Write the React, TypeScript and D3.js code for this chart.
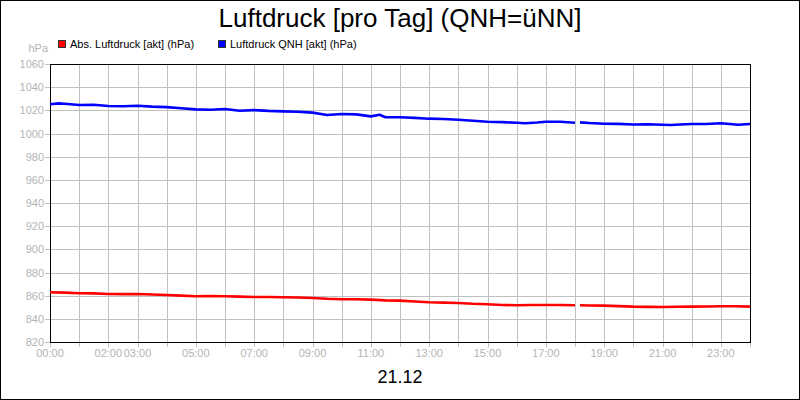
import React, { useEffect, useRef } from 'react';
import * as d3 from 'd3';

// hours since 00:00 and pressure in hPa; null marks the gap in the record
const qnhHours = [0, 0.3, 0.6, 1, 1.5, 2, 2.5, 3, 3.5, 4, 4.5, 5, 5.5, 6, 6.5, 7, 7.5, 8, 8.5, 9, 9.5, 10, 10.5, 11, 11.3, 11.5,
  12, 12.5, 13, 13.5, 14, 14.5, 15, 15.5, 16, 16.3, 16.7, 17, 17.5, 18, 18.08, 18.17, 18.5, 19, 19.5, 20, 20.5, 21, 21.3, 21.6,
  22, 22.5, 23, 23.3, 23.6, 24];
const qnhValues = [1025.2, 1026, 1025.5, 1024.6, 1024.8, 1023.7, 1023.5, 1024, 1023.2, 1022.8, 1021.8, 1020.8, 1020.5, 1021.1,
  1019.7, 1020.2, 1019.5, 1019.1, 1018.8, 1018, 1016, 1016.8, 1016.5, 1014.8, 1016.2, 1014,
  1014, 1013.5, 1012.8, 1012.5, 1011.9, 1011, 1010.2, 1009.8, 1009.3, 1008.8, 1009.5, 1010.2, 1010.2, 1009.3, null, 1009.6,
  1009, 1008.4, 1008.3, 1007.8, 1008, 1007.6, 1007.4, 1007.8, 1008.2, 1008.2, 1008.8, 1008.2, 1007.6, 1008.2];

const absHours = [0, 0.5, 1, 1.5, 2, 2.5, 3, 3.5, 4, 4.5, 5, 5.5, 6, 6.5, 7, 7.5, 8, 8.5, 9, 9.5, 10, 10.5, 11, 11.5,
  12, 12.5, 13, 13.5, 14, 14.5, 15, 15.5, 16, 16.5, 17, 17.5, 18, 18.08, 18.17, 18.5, 19, 19.5, 20, 20.5, 21, 21.5,
  22, 22.5, 23, 23.5, 24];
const absValues = [862.9, 862.6, 862.1, 862, 861.5, 861.3, 861.5, 861, 860.6, 860, 859.5, 859.6, 859.5, 859.2, 858.9,
  858.8, 858.6, 858.4, 858, 857.3, 856.9, 856.9, 856.6, 855.9,
  855.7, 855, 854.3, 854, 853.7, 853, 852.6, 852, 851.7, 851.9, 852, 852, 851.7, null, 851.7, 851.5, 851.4, 851,
  850.5, 850.3, 850.2, 850.4, 850.5, 850.6, 850.8, 850.9, 850.5];

const yTicks = [820, 840, 860, 880, 900, 920, 940, 960, 980, 1000, 1020, 1040, 1060];
const xLabelHours = [0, 2, 3, 5, 7, 9, 11, 13, 15, 17, 19, 21, 23];

const W = 800;
const H = 400;
const margin = { top: 64, right: 50, bottom: 58, left: 50 };
const FONT = '"Liberation Sans", Arial, sans-serif';

export default function App() {
  const svgRef = useRef<SVGSVGElement>(null);

  useEffect(() => {
    if (!svgRef.current) return;
    const svg = d3.select(svgRef.current);
    svg.selectAll('*').remove();

    const x = d3.scaleLinear().domain([0, 24]).range([margin.left, W - margin.right]);
    const y = d3.scaleLinear().domain([820, 1060]).range([H - margin.bottom, margin.top]);

    // outer frame
    svg.append('rect')
      .attr('x', 0.5).attr('y', 0.5)
      .attr('width', W - 1).attr('height', H - 1)
      .attr('fill', '#fff').attr('stroke', '#000');

    // grid
    const grid = svg.append('g').attr('stroke', '#c0c0c0').attr('stroke-width', 1);
    grid.selectAll('.vg')
      .data(d3.range(1, 24))
      .enter()
      .append('line')
      .attr('x1', (d: number) => Math.round(x(d)) + 0.5)
      .attr('x2', (d: number) => Math.round(x(d)) + 0.5)
      .attr('y1', margin.top)
      .attr('y2', H - margin.bottom);
    grid.selectAll('.hg')
      .data(yTicks.slice(1, -1))
      .enter()
      .append('line')
      .attr('x1', margin.left)
      .attr('x2', W - margin.right)
      .attr('y1', (d: number) => Math.round(y(d)) + 0.5)
      .attr('y2', (d: number) => Math.round(y(d)) + 0.5);

    // tick marks
    const ticks = svg.append('g').attr('stroke', '#c0c0c0');
    ticks.selectAll('.xt')
      .data(d3.range(0, 25))
      .enter()
      .append('line')
      .attr('x1', (d: number) => Math.round(x(d)) + 0.5)
      .attr('x2', (d: number) => Math.round(x(d)) + 0.5)
      .attr('y1', H - margin.bottom)
      .attr('y2', H - margin.bottom + 5);
    ticks.selectAll('.yt')
      .data(yTicks)
      .enter()
      .append('line')
      .attr('x1', margin.left - 5)
      .attr('x2', margin.left)
      .attr('y1', (d: number) => Math.round(y(d)) + 0.5)
      .attr('y2', (d: number) => Math.round(y(d)) + 0.5);

    // plot border
    svg.append('rect')
      .attr('x', margin.left + 0.5)
      .attr('y', margin.top + 0.5)
      .attr('width', W - margin.left - margin.right)
      .attr('height', H - margin.top - margin.bottom)
      .attr('fill', 'none')
      .attr('stroke', '#000');

    // y labels
    svg.selectAll('.yl')
      .data(yTicks)
      .enter()
      .append('text')
      .attr('x', 44)
      .attr('y', (d: number) => y(d) + 4)
      .attr('text-anchor', 'end')
      .attr('font-family', FONT)
      .attr('font-size', '11px')
      .attr('fill', '#b4b4b4')
      .text((d: number) => d);

    svg.append('text')
      .attr('x', 48).attr('y', 52)
      .attr('text-anchor', 'end')
      .attr('font-family', FONT)
      .attr('font-size', '11px')
      .attr('fill', '#b4b4b4')
      .text('hPa');

    // x labels
    svg.selectAll('.xl')
      .data(xLabelHours)
      .enter()
      .append('text')
      .attr('x', (d: number) => x(d))
      .attr('y', H - margin.bottom + 15)
      .attr('text-anchor', 'middle')
      .attr('font-family', FONT)
      .attr('font-size', '11px')
      .attr('fill', '#b4b4b4')
      .text((d: number) => `${String(d).padStart(2, '0')}:00`);

    // lines
    const line = d3.line<[number, number | null]>()
      .defined((d) => d[1] !== null)
      .x((d) => x(d[0]))
      .y((d) => y(d[1] as number));

    const series = [
      { hours: absHours, values: absValues, color: '#ff0000' },
      { hours: qnhHours, values: qnhValues, color: '#0000ff' },
    ];
    series.forEach((s) => {
      const pts = s.hours.map((h, i) => [h, s.values[i]] as [number, number | null]);
      svg.append('path')
        .attr('d', line(pts) || '')
        .attr('fill', 'none')
        .attr('stroke', s.color)
        .attr('stroke-width', 2.6)
        .attr('stroke-linejoin', 'round');
    });

    // legend
    const legend = [
      { label: 'Abs. Luftdruck [akt] (hPa)', color: '#ff0000', x: 58 },
      { label: 'Luftdruck QNH [akt] (hPa)', color: '#0000ff', x: 218 },
    ];
    legend.forEach((l) => {
      svg.append('rect')
        .attr('x', l.x + 0.5).attr('y', 40.5)
        .attr('width', 7).attr('height', 7)
        .attr('fill', l.color)
        .attr('stroke', '#333');
      svg.append('text')
        .attr('x', l.x + 12).attr('y', 48)
        .attr('font-family', FONT)
        .attr('font-size', '11px')
        .attr('fill', '#000')
        .text(l.label);
    });

    // title and date
    svg.append('text')
      .attr('x', W / 2).attr('y', 27)
      .attr('text-anchor', 'middle')
      .attr('font-family', FONT)
      .attr('font-size', '26px')
      .attr('fill', '#000')
      .text('Luftdruck [pro Tag] (QNH=üNN]');

    svg.append('text')
      .attr('x', W / 2).attr('y', 383)
      .attr('text-anchor', 'middle')
      .attr('font-family', FONT)
      .attr('font-size', '18px')
      .attr('fill', '#000')
      .text('21.12');
  }, []);

  return (
    <div style={{ position: 'absolute', left: 0, top: 0 }}>
      <svg ref={svgRef} width={W} height={H} style={{ display: 'block' }} />
    </div>
  );
}
